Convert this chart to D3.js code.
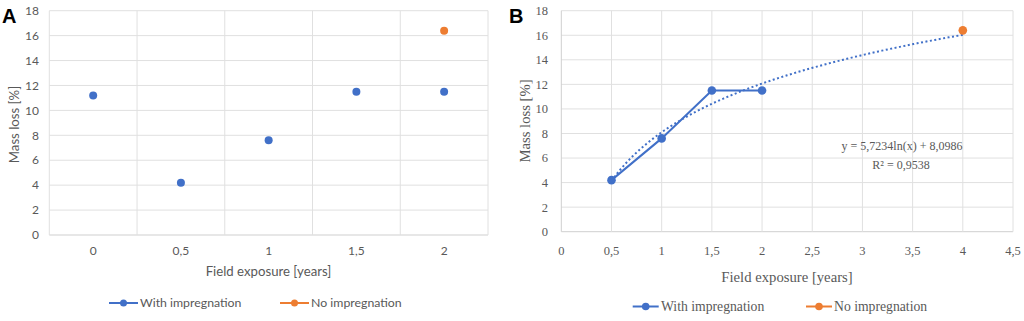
<!DOCTYPE html>
<html>
<head>
<meta charset="utf-8">
<script src="https://cdn.jsdelivr.net/npm/d3@7"></script>
<style>
html,body{margin:0;padding:0;background:#fff;}
svg{display:block;}
</style>
</head>
<body>
<svg id="chart" width="1024" height="321"></svg>
<script>
// ---- data ----
const catsA = ["0", "0,5", "1", "1,5", "2"];
const withImpA = [11.2, 4.2, 7.6, 11.5, 11.5];
const noImpA = [null, null, null, null, 16.4];

const xWithB = [0.5, 1, 1.5, 2];
const yWithB = [4.2, 7.6, 11.5, 11.5];
const xNoB = [4];
const yNoB = [16.4];
const trendCoef = [5.7234, 8.0986]; // y = a ln(x) + b (as shown on chart)
const trendRange = [0.5, 4];
const eqLabel = "y = 5,7234ln(x) + 8,0986";
const r2Label = "R² = 0,9538";

const yTicks = [0, 2, 4, 6, 8, 10, 12, 14, 16, 18];
const xTicksB = [0, 0.5, 1, 1.5, 2, 2.5, 3, 3.5, 4, 4.5];
const seriesNames = ["With impregnation", "No impregnation"];
const colors = ["#4170C8", "#ED7D31"];

const svg = d3.select("#chart");
const fmt = v => String(v).replace(".", ",");

// ================= Panel A =================
{
  const L = 49.3, R = 488, T = 10.7, B = 235;
  const font = "Lato, 'Open Sans', sans-serif";
  const g = svg.append("g");
  const x = d3.scaleBand().domain(catsA).range([L, R]);
  const y = d3.scaleLinear().domain([0, 18]).range([B, T]);

  g.selectAll(".hg").data(yTicks).join("line")
    .attr("x1", L).attr("x2", R)
    .attr("y1", d => y(d)).attr("y2", d => y(d))
    .attr("stroke", d => d === 0 ? "#cfcfcf" : "#e0e0e0").attr("stroke-width", 1);
  const bounds = catsA.map(c => x(c)).concat([R]);
  g.selectAll(".vg").data(bounds).join("line")
    .attr("x1", d => d).attr("x2", d => d)
    .attr("y1", T).attr("y2", B)
    .attr("stroke", "#e0e0e0").attr("stroke-width", 1);

  g.selectAll(".yt").data(yTicks).join("text")
    .attr("x", 39).attr("y", d => y(d)).attr("dy", "0.35em")
    .attr("text-anchor", "end").attr("font-family", font).attr("font-size", 12)
    .attr("fill", "#595959").text(d => d);
  g.selectAll(".xt").data(catsA).join("text")
    .attr("x", d => x(d) + x.bandwidth() / 2).attr("y", 251).attr("dy", "0.35em")
    .attr("text-anchor", "middle").attr("font-family", font).attr("font-size", 12)
    .attr("fill", "#595959").text(d => d);

  g.selectAll(".pa").data(catsA.map((c, i) => [c, withImpA[i]]).filter(d => d[1] != null)).join("circle")
    .attr("cx", d => x(d[0]) + x.bandwidth() / 2).attr("cy", d => y(d[1]))
    .attr("r", 4).attr("fill", colors[0]);
  g.selectAll(".pb").data(catsA.map((c, i) => [c, noImpA[i]]).filter(d => d[1] != null)).join("circle")
    .attr("cx", d => x(d[0]) + x.bandwidth() / 2).attr("cy", d => y(d[1]))
    .attr("r", 4).attr("fill", colors[1]);

  g.append("text").attr("x", 268.5).attr("y", 271).attr("dy", "0.35em")
    .attr("text-anchor", "middle").attr("font-family", font).attr("font-size", 13.2)
    .attr("fill", "#595959").text("Field exposure [years]");
  g.append("text").attr("transform", "translate(14,124.5) rotate(-90)")
    .attr("dy", "0.35em").attr("text-anchor", "middle").attr("font-family", font)
    .attr("font-size", 13.2).attr("fill", "#595959").text("Mass loss [%]");

  const leg = [{x0: 109, x1: 138, tx: 140}, {x0: 280, x1: 309, tx: 311}];
  leg.forEach((l, i) => {
    g.append("line").attr("x1", l.x0).attr("x2", l.x1).attr("y1", 303).attr("y2", 303)
      .attr("stroke", colors[i]).attr("stroke-width", 2);
    g.append("circle").attr("cx", (l.x0 + l.x1) / 2).attr("cy", 303).attr("r", 3.5).attr("fill", colors[i]);
    g.append("text").attr("x", l.tx).attr("y", 303).attr("dy", "0.35em")
      .attr("font-family", font).attr("font-size", 12.3).attr("fill", "#595959").text(seriesNames[i]);
  });

  g.append("text").attr("x", 2).attr("y", 22.5).attr("font-family", "Liberation Sans, Arial, sans-serif")
    .attr("font-weight", "bold").attr("font-size", 20).attr("fill", "#000").text("A");
}

// ================= Panel B =================
{
  const L = 561.3, R = 1013, T = 10.7, B = 231.7;
  const font = "'Liberation Serif', 'DejaVu Serif', serif";
  const g = svg.append("g");
  const x = d3.scaleLinear().domain([0, 4.5]).range([L, R]);
  const y = d3.scaleLinear().domain([0, 18]).range([B, T]);

  g.selectAll(".hg").data(yTicks).join("line")
    .attr("x1", L).attr("x2", R)
    .attr("y1", d => y(d)).attr("y2", d => y(d))
    .attr("stroke", d => d === 0 ? "#cfcfcf" : "#e0e0e0").attr("stroke-width", 1);
  g.selectAll(".vg").data(xTicksB).join("line")
    .attr("x1", d => x(d)).attr("x2", d => x(d))
    .attr("y1", T).attr("y2", B)
    .attr("stroke", d => d === 0 ? "#cfcfcf" : "#e0e0e0").attr("stroke-width", 1);

  g.selectAll(".yt").data(yTicks).join("text")
    .attr("x", 548).attr("y", d => y(d)).attr("dy", "0.35em")
    .attr("text-anchor", "end").attr("font-family", font).attr("font-size", 12.5)
    .attr("fill", "#595959").text(d => d);
  g.selectAll(".xt").data(xTicksB).join("text")
    .attr("x", d => x(d)).attr("y", 251).attr("dy", "0.35em")
    .attr("text-anchor", "middle").attr("font-family", font).attr("font-size", 12.5)
    .attr("fill", "#595959").text(d => fmt(d));

  const tx = d3.range(0, 101).map(i => trendRange[0] + (trendRange[1] - trendRange[0]) * i / 100);
  g.append("path")
    .attr("d", d3.line().x(d => x(d)).y(d => y(trendCoef[0] * Math.log(d) + trendCoef[1]))(tx))
    .attr("fill", "none").attr("stroke", colors[0]).attr("stroke-width", 2)
    .attr("stroke-dasharray", "2,2.5");

  const pts = xWithB.map((v, i) => [v, yWithB[i]]);
  g.append("path").attr("d", d3.line().x(d => x(d[0])).y(d => y(d[1]))(pts))
    .attr("fill", "none").attr("stroke", colors[0]).attr("stroke-width", 2);
  g.selectAll(".pa").data(pts).join("circle")
    .attr("cx", d => x(d[0])).attr("cy", d => y(d[1])).attr("r", 4.3).attr("fill", colors[0]);
  g.selectAll(".pb").data(xNoB.map((v, i) => [v, yNoB[i]])).join("circle")
    .attr("cx", d => x(d[0])).attr("cy", d => y(d[1])).attr("r", 4.3).attr("fill", colors[1]);

  g.append("text").attr("x", 902).attr("y", 146).attr("dy", "0.35em").attr("text-anchor", "middle")
    .attr("font-family", font).attr("font-size", 12).attr("fill", "#595959").text(eqLabel);
  g.append("text").attr("x", 901).attr("y", 165).attr("dy", "0.35em").attr("text-anchor", "middle")
    .attr("font-family", font).attr("font-size", 12).attr("fill", "#595959").text(r2Label);

  g.append("text").attr("x", 787).attr("y", 277).attr("dy", "0.35em")
    .attr("text-anchor", "middle").attr("font-family", font).attr("font-size", 14.7)
    .attr("fill", "#595959").text("Field exposure [years]");
  g.append("text").attr("transform", "translate(525,121) rotate(-90)")
    .attr("dy", "0.35em").attr("text-anchor", "middle").attr("font-family", font)
    .attr("font-size", 14.7).attr("fill", "#595959").text("Mass loss [%]");

  const leg = [{x0: 632.7, x1: 658.7, tx: 661}, {x0: 806, x1: 832, tx: 834}];
  leg.forEach((l, i) => {
    g.append("line").attr("x1", l.x0).attr("x2", l.x1).attr("y1", 306.5).attr("y2", 306.5)
      .attr("stroke", colors[i]).attr("stroke-width", 2);
    g.append("circle").attr("cx", (l.x0 + l.x1) / 2).attr("cy", 306.5).attr("r", 3.8).attr("fill", colors[i]);
    g.append("text").attr("x", l.tx).attr("y", 306.5).attr("dy", "0.35em")
      .attr("font-family", font).attr("font-size", 13.7).attr("fill", "#595959").text(seriesNames[i]);
  });

  g.append("text").attr("x", 509).attr("y", 22.5).attr("font-family", "Liberation Sans, Arial, sans-serif")
    .attr("font-weight", "bold").attr("font-size", 20).attr("fill", "#000").text("B");
}
</script>
</body>
</html>
